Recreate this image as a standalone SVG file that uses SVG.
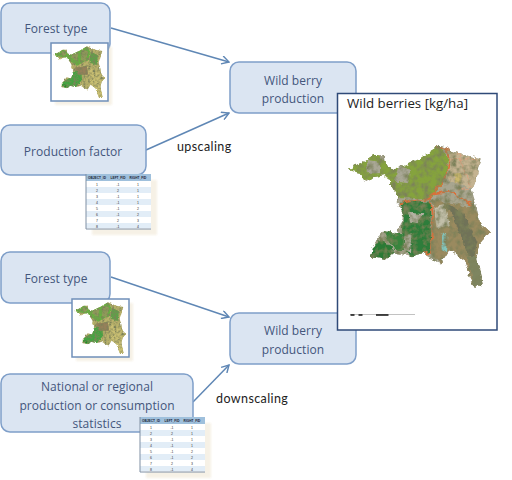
<svg xmlns="http://www.w3.org/2000/svg" xmlns:xlink="http://www.w3.org/1999/xlink" width="512" height="480" viewBox="0 0 512 480">
<style>
.box{fill:#dbe5f2;stroke:#7f9fc9;stroke-width:1.5}
.lbl{font-family:"Open Sans","Noto Sans",sans-serif;font-size:12px;fill:#43567c;text-anchor:middle;letter-spacing:.05px}
.note{font-family:"Lato","Open Sans",sans-serif;font-size:12.5px;fill:#222;letter-spacing:.4px}
.conn{fill:none;stroke:#5f87b5;stroke-width:1.5;marker-end:url(#arrow)}
.frame{fill:#fff;stroke:#6f8fb9;stroke-width:1.5}
.cell{font-family:"Liberation Sans",sans-serif;font-size:3.5px;fill:#333;text-anchor:middle}
.head{font-family:"Liberation Sans",sans-serif;font-size:3.2px;font-weight:bold;fill:#223;text-anchor:middle}
</style>
<defs>
<marker id="arrow" viewBox="0 0 10 10" refX="9" refY="5" markerWidth="9" markerHeight="9" markerUnits="userSpaceOnUse" orient="auto"><path d="M1 0.5L9 5L1 9.5" fill="none" stroke="#5f87b5" stroke-width="1.6"/></marker>
<filter id="soft" x="-5%" y="-5%" width="110%" height="110%"><feGaussianBlur stdDeviation="1.2"/></filter>
<filter id="mottle" x="-5%" y="-5%" width="110%" height="110%">
<feTurbulence type="fractalNoise" baseFrequency=".05" numOctaves="3" seed="4" result="n"/>
<feDisplacementMap in="SourceGraphic" in2="n" scale="20" xChannelSelector="R" yChannelSelector="G" result="d"/>
<feColorMatrix in="n" type="matrix" values="0 0 0 0 .2  0 0 0 0 .22  0 0 0 0 .1  2.6 0 0 0 -1.05" result="dark"/>
<feComposite in="dark" in2="d" operator="in" result="dk"/>
<feMerge result="m"><feMergeNode in="d"/><feMergeNode in="dk"/></feMerge>
<feGaussianBlur in="m" stdDeviation="1.2"/>
</filter>
<clipPath id="outline"><path d="M52 238L100 215L130 195L165 195L168 225L200 235L270 203L330 165L360 180L400 195L455 205L440 260L425 300L440 350L450 400L478 425L450 460L440 500L460 590L430 590L400 510L360 480L335 520L310 510L280 490L240 500L190 490L170 510L120 500L125 470L165 420L200 430L220 370L200 340L205 320L165 255L130 262L100 275L90 245Z"/></clipPath>
<g id="bigmap" filter="url(#mottle)"><g clip-path="url(#outline)">
<rect x="40" y="150" width="450" height="450" fill="#a8a58f"/>
<path d="M52 238L135 192L190 225L330 165L355 210L345 270L300 325L205 325L150 260L100 270Z" fill="#85a33c"/>
<path d="M110 210L150 215L150 250L110 250ZM205 225L240 235L235 280L195 275Z" fill="#a9a795"/>
<path d="M205 335L300 335L305 490L240 500L225 480L215 430L220 370Z" fill="#2f7d3a"/>
<path d="M120 470L160 450L195 490L170 510L120 505Z" fill="#2c7a36"/>
<path d="M160 420L215 430L225 480L190 480Z" fill="#37843e"/>
<path d="M235 365L280 370L265 400L240 395ZM225 440L245 430L240 490L225 480Z" fill="#b4b2a3"/>
<path d="M355 180L455 205L430 300L350 270Z" fill="#c4b391"/>
<path d="M310 330L430 350L478 425L440 500L460 590L430 590L400 510L360 480L335 520L300 490Z" fill="#9a8a5f"/>
<path d="M350 340L400 370L440 460L430 520L395 450Z" fill="#6f7258"/>
<path d="M410 500L440 500L460 590L430 590Z" fill="#7e8560"/>
<path d="M310 350L345 345L360 410L320 410Z" fill="#c2bfa9"/>
<path d="M375 250L395 250L395 280L375 275Z" fill="#c9b76d"/>
<path d="M335 430L352 435L348 490L335 480Z" fill="#84c6bd"/>
<path d="M350 180L358 215L345 270L305 310L300 325L205 340M305 310L360 305L435 350M300 325L310 420L300 490L280 490M360 180L320 170" fill="none" stroke="#d9703a" stroke-width="5"/>
<path d="M355 210L440 205M380 180L420 290L380 305" fill="none" stroke="#d9a27f" stroke-width="3"/>
</g></g>
<g id="smallmap" filter="url(#mottle)"><g clip-path="url(#outline)">
<rect x="40" y="150" width="450" height="450" fill="#b8b16a"/>
<path d="M52 238L135 192L190 225L330 165L355 210L345 270L250 325L150 260Z" fill="#66b040"/>
<path d="M120 200L170 230L130 250ZM210 230L260 220L250 280L200 270ZM290 190L340 210L320 290L280 280Z" fill="#8f9a5a"/>
<path d="M120 470L180 430L220 370L280 350L290 440L240 500L170 510Z" fill="#45a342"/>
<path d="M230 340L330 330L340 400L260 400Z" fill="#95805a"/>
<path d="M330 330L450 400L440 500L460 590L430 590L360 480Z" fill="#c8be72"/>
<path d="M360 210L420 240L410 320L350 300Z" fill="#5fa048"/>
<path d="M120 470L170 490L150 510Z" fill="#1f8f2c"/>
</g></g>
<g id="table">
<rect x="6" y="6" width="65" height="55" fill="#f3ecdc" opacity=".7" filter="url(#soft)"/>
<rect x="0" y="0" width="65" height="55" fill="#fff"/>
<rect x="0" y="0" width="65" height="7" fill="#9fc0dc"/>
<rect x="0" y="13" width="65" height="6" fill="#e2edf7"/><rect x="0" y="25" width="65" height="6" fill="#e2edf7"/><rect x="0" y="37" width="65" height="6" fill="#e2edf7"/><rect x="0" y="49" width="65" height="5" fill="#e2edf7"/>
<path d="M0 0V55H65" fill="none" stroke="#7f8fa3"/>
<text class="head" x="11" y="5">OBJECT_ID</text><text class="head" x="32" y="5">LEFT_FID</text><text class="head" x="52" y="5">RIGHT_FID</text>
<g>
<text class="cell" x="11" y="12">1</text><text class="cell" x="32" y="12">-1</text><text class="cell" x="52" y="12">1</text>
<text class="cell" x="11" y="18">2</text><text class="cell" x="32" y="18">2</text><text class="cell" x="52" y="18">1</text>
<text class="cell" x="11" y="24">3</text><text class="cell" x="32" y="24">-1</text><text class="cell" x="52" y="24">1</text>
<text class="cell" x="11" y="30">4</text><text class="cell" x="32" y="30">-1</text><text class="cell" x="52" y="30">1</text>
<text class="cell" x="11" y="36">5</text><text class="cell" x="32" y="36">-1</text><text class="cell" x="52" y="36">2</text>
<text class="cell" x="11" y="42">6</text><text class="cell" x="32" y="42">-1</text><text class="cell" x="52" y="42">2</text>
<text class="cell" x="11" y="48">7</text><text class="cell" x="32" y="48">2</text><text class="cell" x="52" y="48">3</text>
<text class="cell" x="11" y="54">8</text><text class="cell" x="32" y="54">-1</text><text class="cell" x="52" y="54">4</text>
</g>
</g>
</defs>
<rect width="512" height="480" fill="#fff"/>
<g id="connectors">
<path class="conn" d="M111 28L229 62"/>
<path class="conn" d="M146 150L229 113"/>
<path class="conn" d="M111 277L229 317"/>
<path class="conn" d="M193 402L229 365"/>
</g>
<g id="forest-type-1">
<rect class="box" x="1" y="3" width="109" height="50" rx="9"/>
<text class="lbl" x="56" y="33">Forest type</text>
<rect x="55" y="47" width="57" height="58" fill="#f3ecdc" opacity=".7" filter="url(#soft)"/>
<rect class="frame" x="51" y="43" width="57" height="58"/>
<use xlink:href="#smallmap" href="#smallmap" transform="translate(46.7 26) scale(.122)"/>
</g>
<g id="production-factor">
<rect class="box" x="1" y="125" width="145" height="50" rx="9"/>
<text class="lbl" x="73" y="156">Production factor</text>
<use xlink:href="#table" href="#table" transform="translate(86 174)"/>
</g>
<g id="wild-berry-1">
<rect class="box" x="230" y="62" width="126" height="51" rx="9"/>
<text class="lbl" x="293" y="85">Wild berry</text>
<text class="lbl" x="293" y="103">production</text>
</g>
<g id="forest-type-2">
<rect class="box" x="1" y="252" width="109" height="51" rx="9"/>
<text class="lbl" x="56" y="283">Forest type</text>
<rect x="76" y="303" width="57" height="58" fill="#f3ecdc" opacity=".7" filter="url(#soft)"/>
<rect class="frame" x="72" y="299" width="57" height="58"/>
<use xlink:href="#smallmap" href="#smallmap" transform="translate(67.7 282) scale(.122)"/>
</g>
<g id="national-statistics">
<rect class="box" x="1" y="374" width="192" height="58" rx="9"/>
<text class="lbl" x="97" y="391">National or regional</text>
<text class="lbl" x="97" y="410">production or consumption</text>
<text class="lbl" x="97" y="428">statistics</text>
<use xlink:href="#table" href="#table" transform="translate(140 417)"/>
</g>
<g id="wild-berry-2">
<rect class="box" x="230" y="313" width="126" height="51" rx="9"/>
<text class="lbl" x="293" y="335">Wild berry</text>
<text class="lbl" x="293" y="354">production</text>
</g>
<text class="note" x="177" y="151">upscaling</text>
<text class="note" x="216" y="403">downscaling</text>
<g id="wild-berries-map">
<rect x="337.500" y="93.500" width="159.500" height="236.500" fill="#fff" stroke="#2f4a78" stroke-width="1.500"/>
<text x="347" y="108" font-family="'Open Sans','Noto Sans',sans-serif" font-size="13.300" fill="#222">Wild berries [kg/ha]</text>
<use xlink:href="#bigmap" href="#bigmap" transform="translate(330 90) scale(.3333)"/>
<path d="M350 314.500H415" stroke="#999" stroke-width=".6"/>
<path d="M350.500 315H354.500M358.500 315H362.500M376 315H388.500" stroke="#111" stroke-width="1.600"/>
</g>
</svg>
